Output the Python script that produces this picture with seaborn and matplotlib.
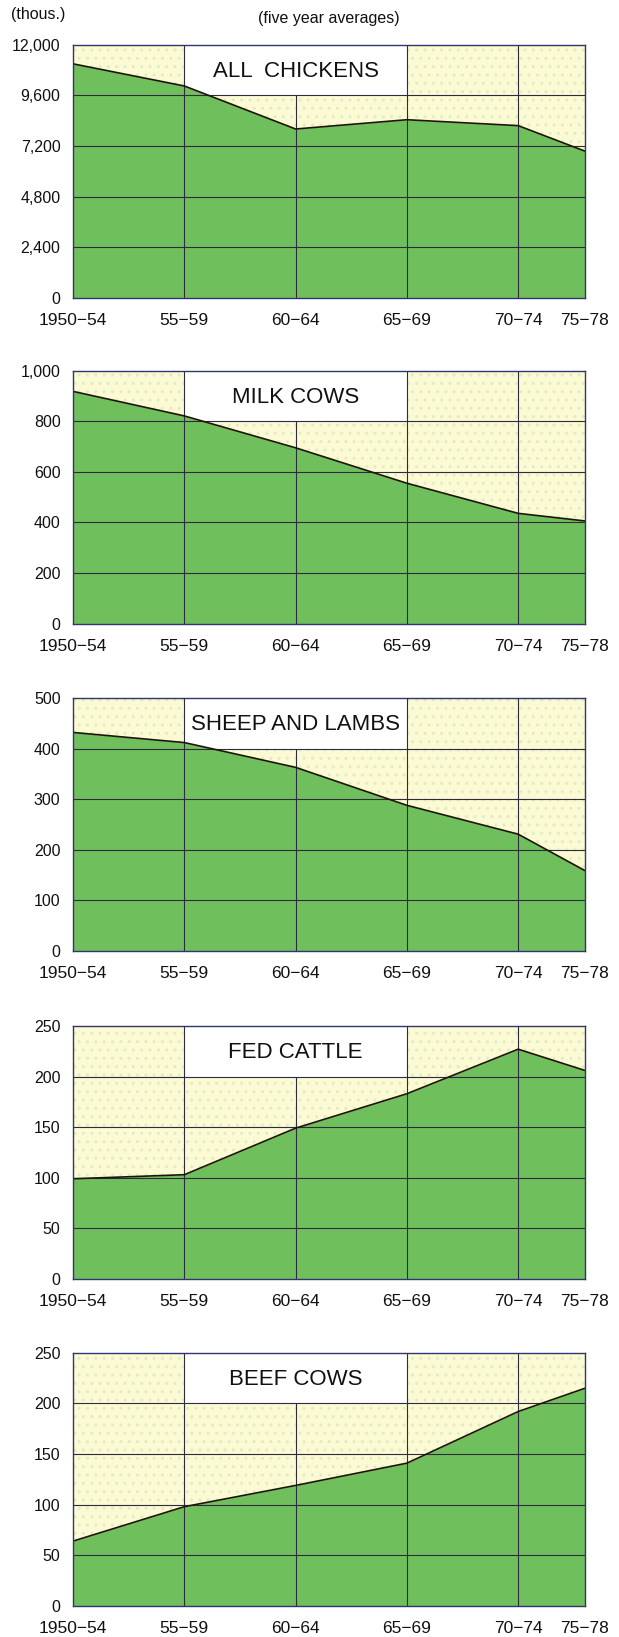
import numpy as np
import pandas as pd
import matplotlib
matplotlib.use("Agg")
import matplotlib.pyplot as plt
import seaborn as sns

# five year periods, plotted at their mid years
periods = ["1950\u221254", "55\u221259", "60\u221264", "65\u221269", "70\u221274", "75\u221278"]
period_mid = [1952, 1957, 1962, 1967, 1972, 1975]

# thousands of head
chickens = [11100, 10050, 8010, 8450, 8170, 6960]
milk_cows = [918, 821, 695, 555, 436, 406]
sheep_lambs = [432, 412, 363, 288, 231, 159]
fed_cattle = [99, 103, 149, 183, 227, 206]
beef_cows = [64, 98, 119, 141, 192, 215]

titles = ["ALL  CHICKENS", "MILK COWS", "SHEEP AND LAMBS", "FED CATTLE", "BEEF COWS"]
series = [chickens, milk_cows, sheep_lambs, fed_cattle, beef_cows]
y_max = [12000, 1000, 500, 250, 250]
y_step = [2400, 200, 100, 50, 50]

sns.set_style("white")
plt.rcParams["font.family"] = ["Liberation Sans", "DejaVu Sans"]

green = "#6fc05c"
paper = "#fcfad2"
grid_c = "#2f2b3e"
frame_c = "#2e3570"

fig = plt.figure(figsize=(6.19, 16.37), dpi=100)
bottoms = [0.818, 0.619, 0.419, 0.2187, 0.019]

for title, vals, top, step, b in zip(titles, series, y_max, y_step, bottoms):
    ax = fig.add_axes([0.118, b, 0.827, 0.1546])
    df = pd.DataFrame({"period": period_mid, "value": vals})

    ax.set_facecolor(paper)
    # faint dotted print texture
    ax.axvspan(period_mid[0], period_mid[-1], facecolor="none", edgecolor="#dfeccb",
               hatch="..", lw=0, zorder=0.5)
    # white title box between 55-59 and 65-69, upper fifth
    ax.axvspan(period_mid[1], period_mid[3], ymin=0.8, ymax=1.0, color="white", zorder=1)

    ax.fill_between(df["period"], 0, df["value"], color=green, lw=0, zorder=2)

    for y in np.arange(step, top, step):
        ax.axhline(y, color=grid_c, lw=0.8, zorder=3)
    for x in period_mid[1:-1]:
        ax.axvline(x, ymax=(0.8 if x == period_mid[2] else 1.0), color=grid_c, lw=0.8, zorder=3)

    sns.lineplot(data=df, x="period", y="value", ax=ax, color="#1e140c", lw=1.2, zorder=4)

    ax.text((period_mid[1] + period_mid[3]) / 2, 0.895 * top, title, ha="center", va="center",
            fontsize=16, color="#111111", zorder=5)

    ax.set_xlim(period_mid[0], period_mid[-1])
    ax.set_ylim(0, top)
    ax.set_xticks(period_mid)
    ax.set_xticklabels(periods)
    ticks = np.arange(0, top + 1, step)
    ax.set_yticks(ticks)
    ax.set_yticklabels([f"{int(t):,}" for t in ticks])
    ax.tick_params(axis="both", length=0, colors="#111111")
    ax.tick_params(axis="x", pad=11, labelsize=12.5)
    ax.tick_params(axis="y", pad=9, labelsize=11.5)
    ax.set_xlabel("")
    ax.set_ylabel("")
    for s in ax.spines.values():
        s.set_visible(True)
        s.set_color(frame_c)
        s.set_linewidth(1.0)
        s.set_zorder(6)

fig.text(0.017, 1 - 14 / 1637, "(thous.)", ha="left", va="center", fontsize=11.5, color="#111111")
fig.text(0.531, 1 - 18 / 1637, "(five year averages)", ha="center", va="center", fontsize=11.5,
         color="#111111")

fig.savefig("out.png", dpi=100)
